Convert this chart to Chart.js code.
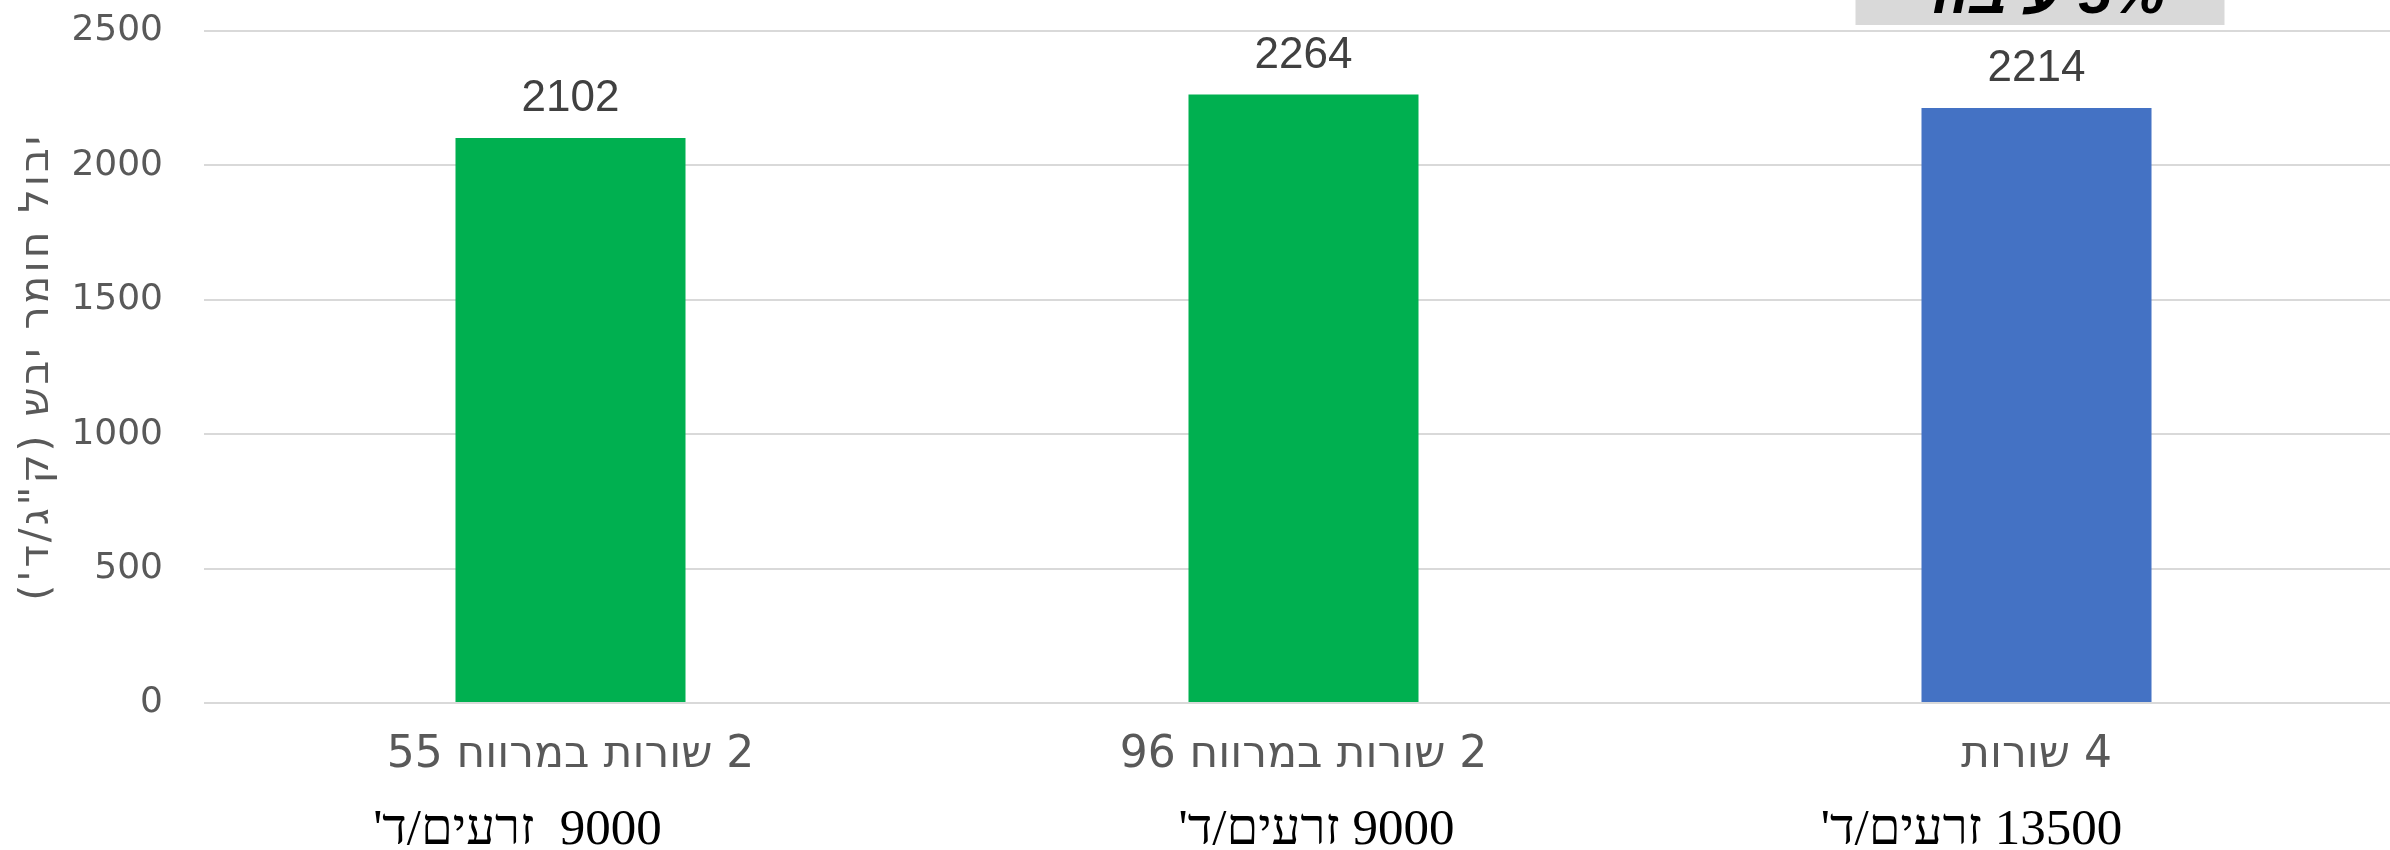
<!DOCTYPE html>
<html>
<head>
<meta charset="utf-8">
<script src="https://cdn.jsdelivr.net/npm/chart.js@4/dist/chart.umd.min.js"></script>
<style>
  html, body { margin: 0; padding: 0; background: #ffffff; overflow: hidden; }
  #wrap { width: 2420px; height: 850px; position: relative; }
</style>
</head>
<body>
<div id="wrap"><canvas id="c" dir="rtl"></canvas></div>
<script>
// ---- data ----
const categories = ['2 שורות במרווח 55', '2 שורות במרווח 96', '4 שורות'];
const seedLabels = ["9000  זרעים/ד'", "9000 זרעים/ד'", "13500 זרעים/ד'"];
const yieldValues = [2102, 2264, 2214];
const barColors = ['#00B050', '#00B050', '#4472C4'];
const yAxisTitle = "יבול חומר יבש (ק\"ג/ד')";
const yMin = 0, yMax = 2500, yStep = 500;
const noteText = '5% עיבוד';

// ---- plugins ----
const valueLabels = {
  id: 'valueLabels',
  afterDatasetsDraw(chart) {
    const ctx = chart.ctx;
    const meta = chart.getDatasetMeta(0);
    ctx.save();
    ctx.fillStyle = '#404040';
    ctx.font = '44px "Liberation Sans", Arial, sans-serif';
    ctx.textAlign = 'center';
    ctx.textBaseline = 'middle';
    meta.data.forEach((bar, i) => {
      ctx.fillText(String(chart.data.datasets[0].data[i]), bar.x, bar.y - 39);
    });
    ctx.restore();
  }
};

const secondLine = {
  id: 'secondLine',
  afterDraw(chart) {
    const ctx = chart.ctx;
    const xs = chart.scales.x;
    const shifts = [-53, 13, -65];
    ctx.save();
    ctx.fillStyle = '#000000';
    ctx.font = '51px "Liberation Serif", "Times New Roman", serif';
    ctx.textAlign = 'center';
    ctx.textBaseline = 'middle';
    seedLabels.forEach((t, i) => {
      ctx.fillText(t, xs.getPixelForValue(i) + shifts[i], 831);
    });
    ctx.restore();
  }
};

const noteBox = {
  id: 'noteBox',
  afterDraw(chart) {
    const ctx = chart.ctx;
    const xs = chart.scales.x;
    const cx = xs.getPixelForValue(2);
    ctx.save();
    ctx.fillStyle = '#D9D9D9';
    ctx.fillRect(cx - 181, -40, 369, 65);
    ctx.fillStyle = '#000000';
    ctx.font = 'italic bold 60px "Liberation Sans", Arial, sans-serif';
    ctx.textAlign = 'center';
    ctx.textBaseline = 'alphabetic';
    ctx.fillText(noteText, cx + 4, 13);
    ctx.restore();
  }
};

function spacedTitle(scale) {
  if (scale._spacedTitle) return;
  const orig = scale.drawTitle.bind(scale);
  scale.drawTitle = function () {
    const c = this.ctx;
    const prev = c.letterSpacing;
    c.letterSpacing = '3px';
    orig();
    c.letterSpacing = prev;
  };
  scale._spacedTitle = true;
}

new Chart(document.getElementById('c'), {
  type: 'bar',
  data: {
    labels: categories,
    datasets: [{
      data: yieldValues,
      backgroundColor: barColors,
      borderWidth: 0,
      categoryPercentage: 1.0,
      barPercentage: 0.3138
    }]
  },
  options: {
    responsive: true,
    maintainAspectRatio: false,
    animation: false,
    events: [],
    layout: { padding: { left: 0, right: 17, top: 31, bottom: 0 } },
    plugins: {
      legend: { display: false },
      tooltip: { enabled: false },
      title: { display: false }
    },
    scales: {
      x: {
        grid: { display: false, drawTicks: false },
        border: { display: false },
        ticks: {
          color: '#595959',
          font: { family: '"DejaVu Sans", sans-serif', size: 44 },
          padding: 26,
          maxRotation: 0,
          autoSkip: false
        },
        afterFit(scale) { scale.height = 147; scale.paddingLeft = 0; scale.paddingRight = 0; }
      },
      y: {
        min: yMin,
        max: yMax,
        grid: { color: '#D9D9D9', lineWidth: 2, drawTicks: false },
        border: { display: false },
        ticks: {
          stepSize: yStep,
          color: '#595959',
          font: { family: '"DejaVu Sans", sans-serif', size: 36 },
          padding: 41,
          callback: (v) => String(v)
        },
        title: {
          display: true,
          text: yAxisTitle,
          color: '#595959',
          font: { family: '"DejaVu Sans", sans-serif', size: 41 },
          padding: { top: 13, bottom: 0 }
        },
        afterFit(scale) {
          scale.width = 204; scale.paddingTop = 0; scale.paddingBottom = 0;
          spacedTitle(scale);
        }
      }
    }
  },
  plugins: [valueLabels, secondLine, noteBox]
});
</script>
</body>
</html>
